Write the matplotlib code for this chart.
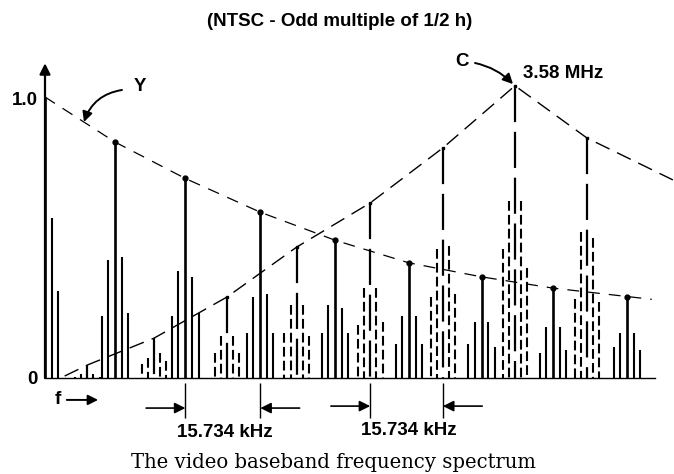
import matplotlib
matplotlib.use('Agg')
from matplotlib import pyplot as plt

# picture coords -> data: x in units of line frequency h, y relative amplitude
# Y (luminance) harmonics
y_pos = [0.0, 0.96, 1.93, 2.96, 3.99, 5.0, 6.0, 6.98, 8.0]
y_amp = [1.0, 0.84, 0.71, 0.59, 0.49, 0.41, 0.36, 0.32, 0.29]
# sidebands around each Y harmonic (offsets -2,-1,+1,+2)
y_sb_off = [-0.18, -0.095, 0.095, 0.18]
y_sb_amp = [[0.0, 0.0, 0.57, 0.31],
            [0.22, 0.42, 0.43, 0.23],
            [0.22, 0.38, 0.36, 0.23],
            [0.16, 0.29, 0.30, 0.16],
            [0.16, 0.26, 0.25, 0.16],
            [0.12, 0.22, 0.22, 0.12],
            [0.12, 0.20, 0.20, 0.11],
            [0.09, 0.18, 0.18, 0.10],
            [0.11, 0.16, 0.16, 0.10]]

# C (chroma) harmonics, odd multiples of h/2
c_pos = [0.58, 1.5, 2.5, 3.46, 4.47, 5.47, 6.46, 7.45]
c_amp = [0.046, 0.142, 0.288, 0.466, 0.623, 0.819, 1.04, 0.854]
c_sb_off = [-0.17, -0.085, 0.085, 0.17]
c_sb_amp = [[0.005, 0.015, 0.015, 0.005],
            [0.05, 0.07, 0.09, 0.06],
            [0.09, 0.15, 0.15, 0.09],
            [0.16, 0.26, 0.26, 0.15],
            [0.19, 0.32, 0.32, 0.20],
            [0.29, 0.46, 0.47, 0.30],
            [0.46, 0.63, 0.63, 0.39],
            [0.28, 0.52, 0.50, 0.27]]

# envelopes (dashed curves)
y_env_x = [0.0] + y_pos[1:] + [8.34]
y_env_v = [1.0] + y_amp[1:] + [0.28]
c_env_x = [0.27] + c_pos + [8.63]
c_env_v = [0.007] + c_amp + [0.705]

plt.rcParams['lines.scale_dashes'] = False
plt.rcParams['font.family'] = ['Liberation Sans', 'DejaVu Sans']

fig = plt.figure(figsize=(6.74, 4.74), dpi=100)
ax = fig.add_axes([0, 0, 1, 1])
ax.set_xlim(-45 / 72.75, 629 / 72.75)
ax.set_ylim(-96 / 281, 378 / 281)
ax.axis('off')

# axes
ax.plot([0, 8.38], [0, 0], color='black', lw=1.0)
ax.annotate('', xy=(0, 1.12), xytext=(0, 0),
            arrowprops=dict(arrowstyle='-|>', color='black', lw=1.6,
                            mutation_scale=16, shrinkA=0, shrinkB=0))

# Y lines
for i in range(len(y_pos)):
    for k in range(4):
        a = y_sb_amp[i][k]
        if a > 0:
            ax.vlines(y_pos[i] + y_sb_off[k], 0, a, color='black', lw=1.5)
ax.vlines(y_pos, 0, y_amp, color='black', lw=1.9)
ax.plot(y_pos[1:], y_amp[1:], 'o', color='black', ms=3.5)

# C lines (dashed), drawn from the top down
for i in range(len(c_pos)):
    for k in range(4):
        ax.vlines(c_pos[i] + c_sb_off[k], c_sb_amp[i][k], 0, color='black',
                  lw=1.5, linestyles=[(0, (7, 3))])
ax.vlines(c_pos, c_amp, [0] * len(c_pos), color='black', lw=1.6,
          linestyles=[(0, (26, 7))])
ax.plot(c_pos[2:], c_amp[2:], 's', color='black', ms=2)

# envelopes
ax.plot(y_env_x, y_env_v, color='black', lw=0.9, dashes=(8.5, 6.5))
ax.plot(c_env_x, c_env_v, color='black', lw=1.0, dashes=(11, 6))

# labels
fs = 13.5
fw = 'bold'
ax.text(4.055, 1.267, '(NTSC - Odd multiple of 1/2 h)', fontsize=fs,
        weight=fw, ha='center', va='center')
ax.text(-0.096, 0.989, '1.0', fontsize=fs, weight=fw, ha='right', va='center')
ax.text(-0.096, -0.004, '0', fontsize=fs, weight=fw, ha='right', va='center')
ax.text(1.306, 1.036, 'Y', fontsize=fs, weight=fw, ha='center', va='center')
ax.annotate('', xy=(0.536, 0.911), xytext=(1.058, 1.025),
            arrowprops=dict(arrowstyle='-|>', color='black', lw=1.4,
                            mutation_scale=15, shrinkA=0, shrinkB=0,
                            connectionstyle='arc3,rad=0.3'))
ax.text(5.732, 1.128, 'C', fontsize=fs, weight=fw, ha='center', va='center')
ax.annotate('', xy=(6.433, 1.046), xytext=(5.911, 1.121),
            arrowprops=dict(arrowstyle='-|>', color='black', lw=1.4,
                            mutation_scale=15, shrinkA=0, shrinkB=0,
                            connectionstyle='arc3,rad=-0.15'))
ax.text(6.57, 1.082, '3.58 MHz', fontsize=fs, weight=fw, ha='left', va='center')

# f ->
ax.text(0.179, -0.078, 'f', fontsize=fs, weight=fw, ha='center', va='center')
ax.annotate('', xy=(0.73, -0.078), xytext=(0.30, -0.078),
            arrowprops=dict(arrowstyle='-|>', color='black', lw=1.4,
                            mutation_scale=15, shrinkA=0, shrinkB=0))

# spacing markers
for left, right, yy in [(y_pos[2], y_pos[3], -0.107), (c_pos[4], c_pos[5], -0.100)]:
    ax.vlines([left, right], -0.018, -0.142, color='black', lw=1.0)
    ax.annotate('', xy=(left, yy), xytext=(left - 0.54, yy),
                arrowprops=dict(arrowstyle='-|>', color='black', lw=1.2,
                                mutation_scale=16, shrinkA=0, shrinkB=0))
    ax.annotate('', xy=(right, yy), xytext=(right + 0.54, yy),
                arrowprops=dict(arrowstyle='-|>', color='black', lw=1.2,
                                mutation_scale=16, shrinkA=0, shrinkB=0))
    ax.text((left + right) / 2 + 0.03, yy - 0.087, '15.734 kHz', fontsize=fs,
            weight=fw, ha='center', va='center')

ax.text(3.959, -0.299, 'The video baseband frequency spectrum', fontsize=14.1,
        family='DejaVu Serif', ha='center', va='center')

fig.savefig('out.png', dpi=100)
